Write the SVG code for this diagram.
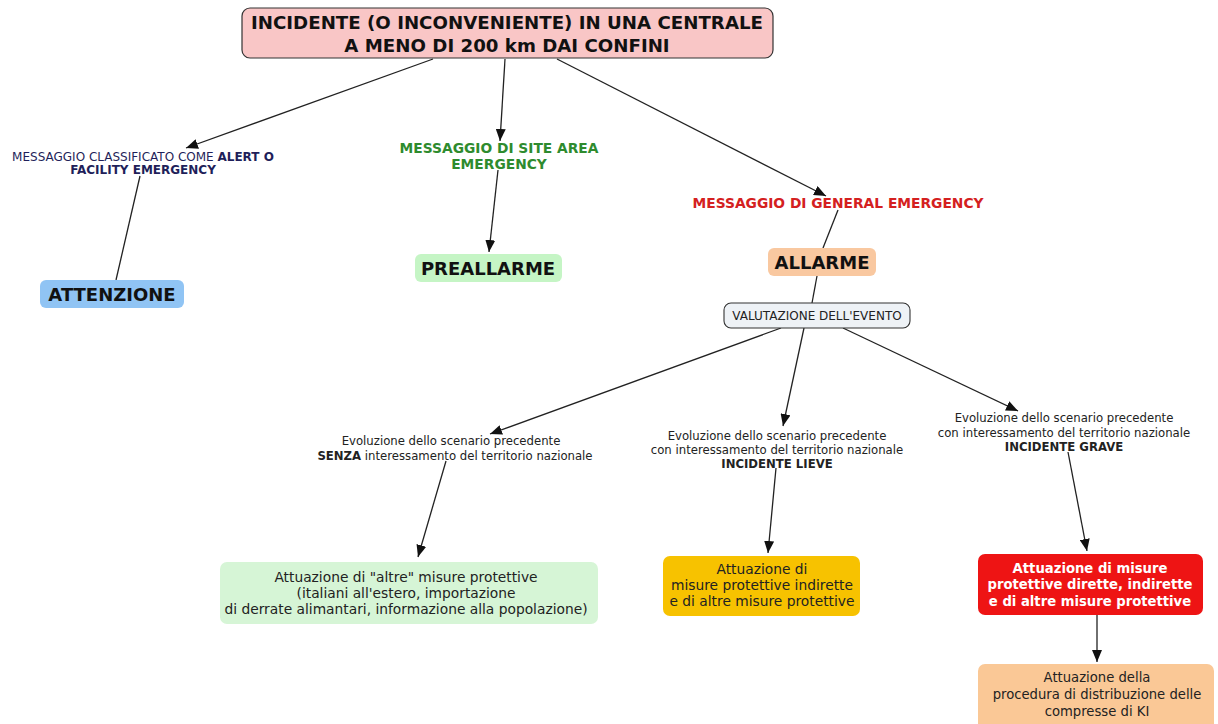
<svg xmlns="http://www.w3.org/2000/svg" width="1218" height="724" viewBox="0 0 1218 724">
<defs>
<marker id="ah" viewBox="0 0 12 10" refX="12" refY="5" markerWidth="12" markerHeight="10" markerUnits="userSpaceOnUse" orient="auto">
<path d="M0,0 L12,5 L0,10 z" fill="#111"/>
</marker>
<style>
text{font-family:"DejaVu Sans","Liberation Sans",sans-serif;text-anchor:middle}
.b{font-weight:bold}
.big{font-size:18px;font-weight:bold;fill:#111}
.lab{font-size:11.7px;fill:#222}
.box{font-size:13.8px;fill:#222}
.c{stroke:#222;stroke-width:1.3;fill:none}
.ca{stroke:#222;stroke-width:1.3;fill:none;marker-end:url(#ah)}
</style>
</defs>
<rect width="1218" height="724" fill="#fff"/>
<g id="connectors">
<line class="ca" x1="433" y1="59" x2="186" y2="148"/>
<line class="ca" x1="505" y1="59" x2="500" y2="141"/>
<line class="ca" x1="557" y1="59" x2="826" y2="196"/>
<line class="c" x1="140" y1="176" x2="116" y2="280"/>
<line class="ca" x1="498" y1="170" x2="489" y2="252"/>
<line class="c" x1="838" y1="210" x2="823" y2="248"/>
<line class="c" x1="817" y1="276" x2="812" y2="303"/>
<line class="ca" x1="781" y1="328" x2="490" y2="434"/>
<line class="ca" x1="804" y1="328" x2="783" y2="426"/>
<line class="ca" x1="843" y1="328" x2="1018" y2="411"/>
<line class="ca" x1="446" y1="461" x2="418" y2="557"/>
<line class="ca" x1="776" y1="468" x2="768" y2="553"/>
<line class="ca" x1="1068" y1="452" x2="1087" y2="551"/>
<line class="ca" x1="1097" y1="615" x2="1097" y2="662"/>
</g>
<g id="n-top">
<rect x="242" y="8" width="531" height="50" rx="8" fill="#f9c6c6" stroke="#333" stroke-width="1.2"/>
<text class="b" x="507" y="29" font-size="18.2" fill="#111">INCIDENTE (O INCONVENIENTE) IN UNA CENTRALE</text>
<text class="b" x="507" y="52" font-size="18.2" fill="#111">A MENO DI 200 km DAI CONFINI</text>
</g>
<g id="n-alert">
<text x="143" y="161" font-size="12" fill="#1f1f5a">MESSAGGIO CLASSIFICATO COME <tspan class="b">ALERT O</tspan></text>
<text class="b" x="143" y="174" font-size="12" fill="#1f1f5a">FACILITY EMERGENCY</text>
</g>
<g id="n-attenzione">
<rect x="40" y="280" width="144" height="28" rx="6" fill="#90c4f4"/>
<text class="big" x="112" y="300.5">ATTENZIONE</text>
</g>
<g id="n-site">
<text class="b" x="499" y="153" font-size="13.8" fill="#2e8b2e">MESSAGGIO DI SITE AREA</text>
<text class="b" x="499" y="169" font-size="13.8" fill="#2e8b2e">EMERGENCY</text>
</g>
<g id="n-preallarme">
<rect x="415" y="254" width="147" height="28" rx="6" fill="#c5f5c5"/>
<text class="big" x="488" y="274.5">PREALLARME</text>
</g>
<g id="n-general">
<text class="b" x="838" y="208" font-size="13.8" fill="#d42020">MESSAGGIO DI GENERAL EMERGENCY</text>
</g>
<g id="n-allarme">
<rect x="768" y="248" width="108" height="28" rx="6" fill="#f9c8a0"/>
<text class="big" x="822" y="268.5">ALLARME</text>
</g>
<g id="n-valutazione">
<rect x="724" y="303" width="186" height="25" rx="7" fill="#eef2f6" stroke="#333" stroke-width="1.1"/>
<text x="817" y="320" font-size="12" fill="#222">VALUTAZIONE DELL'EVENTO</text>
</g>
<g id="n-senza">
<text class="lab" x="451" y="445">Evoluzione dello scenario precedente</text>
<text class="lab" x="455" y="460"><tspan class="b">SENZA</tspan> interessamento del territorio nazionale</text>
</g>
<g id="n-lieve">
<text class="lab" x="777" y="440">Evoluzione dello scenario precedente</text>
<text class="lab" x="777" y="454">con interessamento del territorio nazionale</text>
<text class="lab b" x="777" y="468">INCIDENTE LIEVE</text>
</g>
<g id="n-grave">
<text class="lab" x="1064" y="422">Evoluzione dello scenario precedente</text>
<text class="lab" x="1064" y="437">con interessamento del territorio nazionale</text>
<text class="lab b" x="1064" y="451">INCIDENTE GRAVE</text>
</g>
<g id="n-altre">
<rect x="220" y="562" width="378" height="62" rx="7" fill="#d6f5d6"/>
<text class="box" x="406" y="582">Attuazione di "altre" misure protettive</text>
<text class="box" x="406" y="598">(italiani all'estero, importazione</text>
<text class="box" x="406" y="614">di derrate alimantari, informazione alla popolazione)</text>
</g>
<g id="n-indirette">
<rect x="663" y="556" width="197" height="60" rx="7" fill="#f7c200"/>
<text class="box" x="762" y="574">Attuazione di</text>
<text class="box" x="762" y="590">misure protettive indirette</text>
<text class="box" x="762" y="606">e di altre misure protettive</text>
</g>
<g id="n-dirette">
<rect x="978" y="554" width="225" height="61" rx="7" fill="#ee1414"/>
<text class="b" x="1090" y="573" font-size="13.2" fill="#fff">Attuazione di misure</text>
<text class="b" x="1090" y="589" font-size="13.2" fill="#fff">protettive dirette, indirette</text>
<text class="b" x="1090" y="606" font-size="13.2" fill="#fff">e di altre misure protettive</text>
</g>
<g id="n-ki">
<rect x="978" y="664" width="236" height="70" rx="7" fill="#fac896"/>
<text x="1097" y="682" font-size="13.2" fill="#222">Attuazione della</text>
<text x="1097" y="699" font-size="13.2" fill="#222">procedura di distribuzione delle</text>
<text x="1097" y="716" font-size="13.2" fill="#222">compresse di KI</text>
</g>
</svg>
